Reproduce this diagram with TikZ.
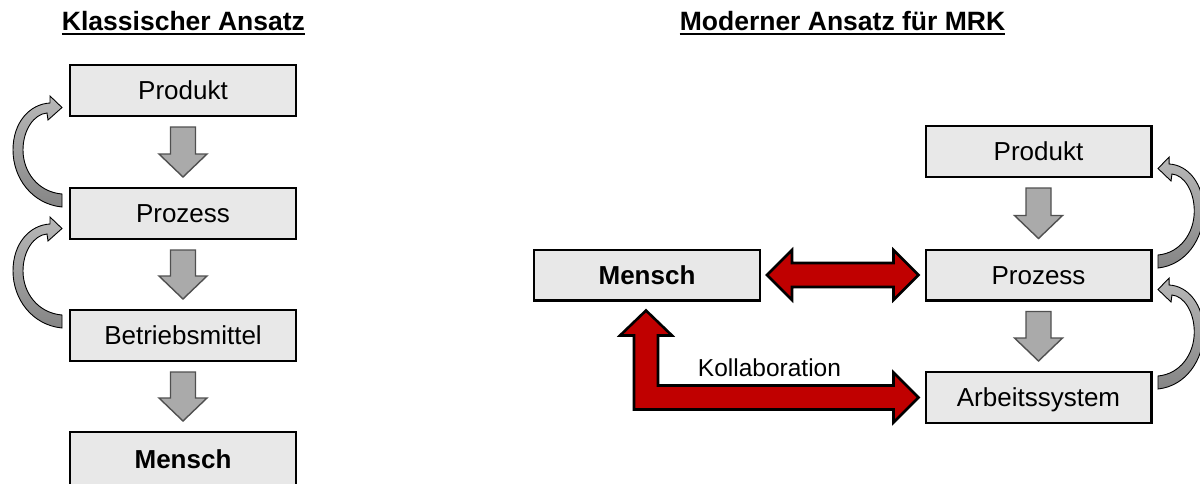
\documentclass[tikz,border=0pt]{standalone}
\usepackage{fontspec}
\setmainfont{Liberation Sans}
\usetikzlibrary{calc}
\definecolor{boxgray}{HTML}{E8E8E8}
\definecolor{arrgray}{HTML}{AAAAAA}
\definecolor{arrborder}{HTML}{505050}
\definecolor{mrkred}{HTML}{C00000}
\definecolor{curvtop}{HTML}{B8B8B8}
\definecolor{curvbot}{HTML}{858585}
\tikzset{
  box/.style={draw=black, line width=2.4pt, fill=boxgray, minimum width=225.6pt,
    minimum height=50.6pt, inner sep=0pt, font=\fontsize{26pt}{30pt}\selectfont,
    text height=18.6pt, text depth=0pt},
  boldbox/.style={box, font=\bfseries\fontsize{26pt}{30pt}\selectfont},
  titletext/.style={inner sep=0pt, anchor=base, font=\bfseries\fontsize{26.5pt}{32pt}\selectfont},
  uline/.style={line width=2.4pt},
  dnarr/.style={draw=arrborder, line width=1.4pt, fill=arrgray, line join=miter},
  redarr/.style={draw=black, line width=2.6pt, fill=mrkred, line join=miter},
  curv/.style={draw=black, line width=0.9pt, top color=curvtop, bottom color=curvbot},
  lbl/.style={inner sep=0pt, anchor=base, font=\fontsize{24.5pt}{28pt}\selectfont}
}
\newcommand\downarr[2]{\draw[dnarr] let \p1=(#1.south), \p2=(#2.north) in
  (\x1-12.5pt,\y1-10pt) -- (\x1+12.5pt,\y1-10pt) -- (\x1+12.5pt,\y2+33pt) --
  (\x1+24pt,\y2+33pt) -- (\x1,\y2+10pt) -- (\x1-24pt,\y2+33pt) --
  (\x1-12.5pt,\y2+33pt) -- cycle;}
\newcommand\curvarrow{\draw[curv] (62,207) .. controls (32,204) and (13,178) .. (13,150)
  .. controls (13,122) and (30,104) .. (50,103) -- (50,96) -- (62,107.5) -- (48,120) -- (47,113)
  .. controls (34,114) and (23,130) .. (23,150) .. controls (23,172) and (38,192) .. (62,194) -- cycle;}
\begin{document}
\begin{tikzpicture}[x=1pt,y=-1pt]
\useasboundingbox (0,0) rectangle (1200,483);
\clip (0,0) rectangle (1200,483);
\fill[white] (0,0) rectangle (1200,483);

% titles
\node[titletext] (t1) at (183.5,30) {Klassischer Ansatz};
\draw[uline] ($(t1.base west)+(0,4)$) -- ($(t1.base east)+(0,4)$);
\node[titletext] (t2) at (842.5,30) {Moderner Ansatz für MRK};
\draw[uline] ($(t2.base west)+(0,4)$) -- ($(t2.base east)+(0,4)$);

% left column
\node[box] (lp) at (183,90.5) {Produkt};
\node[box] (lz) at (183,213.5) {Prozess};
\node[box] (lb) at (183,335.5) {Betriebsmittel};
\node[boldbox, minimum height=56pt, text depth=3pt] (lm) at (183,460.2) {Mensch};
\downarr{lp}{lz}
\downarr{lz}{lb}
\downarr{lb}{lm}
\curvarrow
\begin{scope}[shift={(0,121)}]\curvarrow\end{scope}

% right part
\node[boldbox] (mm) at (647,275) {Mensch};
\node[box] (rp) at (1038.5,151.5) {Produkt};
\node[box] (rz) at (1038.5,275) {Prozess};
\node[box] (ra) at (1038.5,397.5) {Arbeitssystem};
\downarr{rp}{rz}
\downarr{rz}{ra}
\begin{scope}[shift={(1215.66,61)}, xscale=-0.93]\curvarrow\end{scope}
\begin{scope}[shift={(1215.66,182)}, xscale=-0.93]\curvarrow\end{scope}

% red double arrow Mensch <-> Prozess
\draw[redarr] let \p1=(mm.east), \p2=(rz.west) in
  (\x1+6pt,\y1) -- (\x1+31pt,\y1+25pt) -- (\x1+31pt,\y1+12pt) -- (\x2-31pt,\y1+12pt) --
  (\x2-31pt,\y1+25pt) -- (\x2-6pt,\y1) -- (\x2-31pt,\y1-25pt) -- (\x2-31pt,\y1-12pt) --
  (\x1+31pt,\y1-12pt) -- (\x1+31pt,\y1-25pt) -- cycle;

% red L arrow Mensch <-> Arbeitssystem
\draw[redarr] let \p1=(mm.south), \p2=(ra.west) in
  (\x1-1pt,\y1-9pt) -- (\x1+25pt,\y1-34pt) -- (\x1+11pt,\y1-34pt) -- (\x1+11pt,\y2+12pt) --
  (\x2-31pt,\y2+12pt) -- (\x2-31pt,\y2+25pt) -- (\x2-6pt,\y2) -- (\x2-31pt,\y2-25pt) --
  (\x2-31pt,\y2-12pt) -- (\x1-13pt,\y2-12pt) -- (\x1-13pt,\y1-34pt) -- (\x1-27pt,\y1-34pt) -- cycle;
\node[lbl] (kl) at (769.5,376) {Kollaboration};
\end{tikzpicture}
\end{document}
